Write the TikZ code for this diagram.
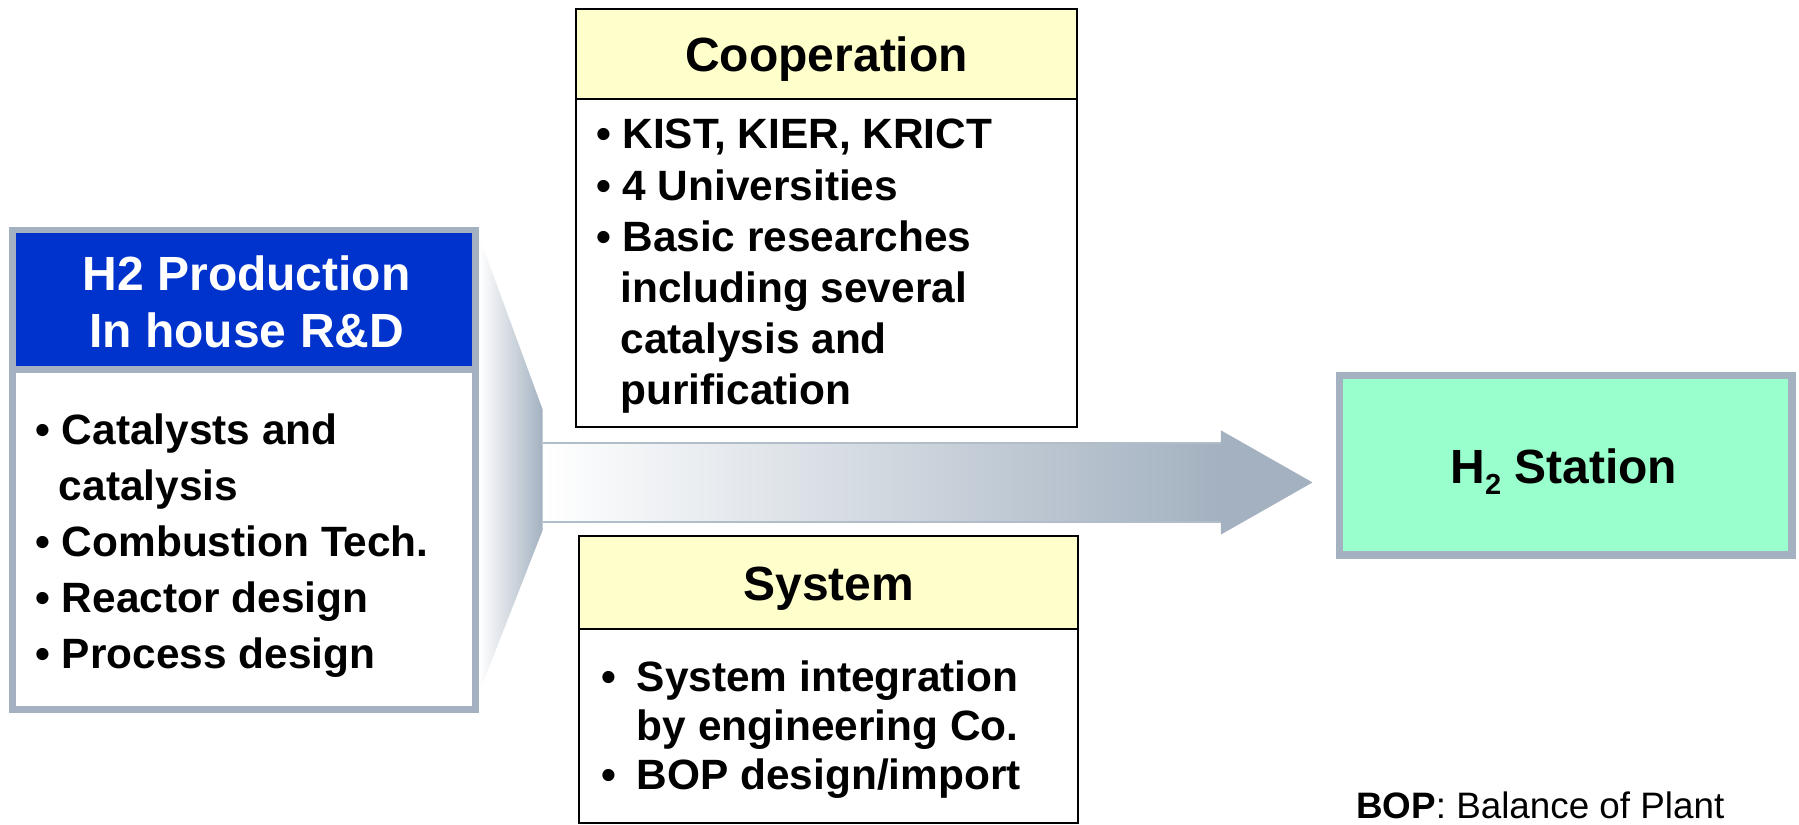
\documentclass[tikz,border=0pt]{standalone}
\usepackage{fontspec}
\setmainfont{Liberation Sans}
\definecolor{framegray}{RGB}{163,177,192}
\definecolor{hblue}{RGB}{0,51,204}
\definecolor{hyellow}{RGB}{255,255,204}
\definecolor{hgreen}{RGB}{153,255,204}
\pgfdeclarehorizontalshading{arrowshade}{100bp}{color(0bp)=(white); color(25bp)=(white); color(69bp)=(framegray); color(100bp)=(framegray)}
\newcommand{\bul}[1]{\makebox[#1][l]{•}}
\begin{document}
\begin{tikzpicture}[x=0.5737pt,y=-0.5737pt,
  every node/.style={inner sep=0pt, outer sep=0pt},
  titletext/.style={font=\fontsize{24}{28.6}\selectfont\bfseries, align=center},
  leftbody/.style={font=\fontsize{21.2}{27.9}\selectfont\bfseries, align=left, anchor=north west},
  coopbody/.style={font=\fontsize{21.2}{25.6}\selectfont\bfseries, align=left, anchor=north west},
  sysbody/.style={font=\fontsize{21.2}{24.7}\selectfont\bfseries, align=left, anchor=north west},
  boxline/.style={draw=black, line width=1pt}]
\path[use as bounding box] (0,0) rectangle (1568,719);

% big arrow
\coordinate (ashaftL) at (473,420.5);
\coordinate (atip) at (1144,420.5);
\shade[shading=arrowshade] (473,386) -- (1064,386) -- (1064,375) -- (atip) -- (1064,466) -- (1064,455) -- (473,455) -- cycle;
\draw[framegray!85, line width=0.8pt] (473,386) -- (1064,386);
\draw[framegray!85, line width=0.8pt] (473,455) -- (1064,455);

% left box
\fill[framegray] (7.5,197.5) rectangle (417.5,621.5);
\fill[hblue] (14,203.5) rectangle (411,319);
\fill[white] (14,325.5) rectangle (411,615);
\shade[left color=white, right color=framegray] (417.5,206) -- (473,357) -- (473,462) -- (417.5,604) -- cycle;
\node[titletext, text=white, anchor=north] (prodtitle) at (215,222.5) {H2 Production\\In house R\&D};
\node[leftbody] (prodbody) at (31,361) {\bul{13.2pt}Catalysts and\\\hspace*{11.7pt}catalysis\\\bul{13.2pt}Combustion Tech.\\\bul{13.2pt}Reactor design\\\bul{13.2pt}Process design};

% cooperation box
\fill[hyellow] (502,8) rectangle (939,86.6);
\fill[white] (502,86.6) rectangle (939,372);
\draw[boxline] (502,8) rectangle (939,372);
\draw[boxline] (502,86.6) -- (939,86.6);
\node[titletext, anchor=base] (cooptitle) at (720.5,62.5) {Cooperation};
\node[coopbody] (coopbody) at (520,104) {\bul{12.9pt}KIST, KIER, KRICT\\\bul{12.9pt}4 Universities\\\bul{12.9pt}Basic researches\\\hspace*{12pt}including several\\\hspace*{12pt}catalysis and\\\hspace*{12pt}purification};

% system box
\fill[hyellow] (505,467) rectangle (940,548);
\fill[white] (505,548) rectangle (940,717);
\draw[boxline] (505,467) rectangle (940,717);
\draw[boxline] (505,548) -- (940,548);
\node[titletext, anchor=base] (systitle) at (722.5,523.5) {System};
\node[sysbody] (sysbody) at (524,575.5) {\bul{17.8pt}System integration\\\hspace*{17.8pt}by engineering Co.\\\bul{17.8pt}BOP design/import};

% H2 station
\fill[framegray] (1164,324) rectangle (1565,487);
\fill[hgreen] (1170.5,330.5) rectangle (1558.5,480.5);
\node[titletext, anchor=base] (station) at (1363,421.3) {H\raisebox{-5.8pt}{\fontsize{14.5}{14.5}\selectfont 2} Station};

\node[anchor=base west, font=\fontsize{18.4}{22}\selectfont] (bopnote) at (1182,713) {\textbf{BOP}: Balance of Plant};
\end{tikzpicture}
\end{document}
